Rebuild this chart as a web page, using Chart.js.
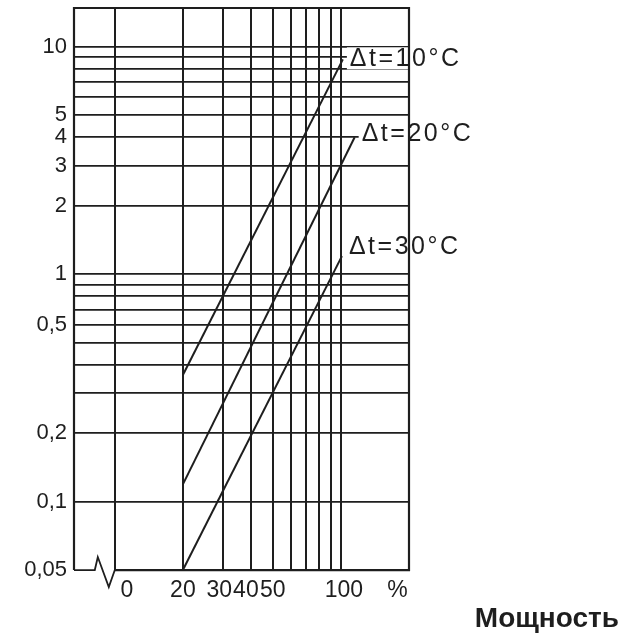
<!DOCTYPE html>
<html>
<head>
<meta charset="utf-8">
<script src="https://cdn.jsdelivr.net/npm/chart.js@4.4.1/dist/chart.umd.min.js"></script>
<style>
  html, body { margin: 0; padding: 0; background: #fff; }
  #wrap { width: 619px; height: 635px; }
</style>
</head>
<body>
<div id="wrap"><canvas id="chart"></canvas></div>
<script>
// vertical grid lines (power, %) and where the printed tick labels sit
const X_GRID = [10, 20, 30, 40, 50, 60, 70, 80, 90, 100];
const X_LABEL_VALUES = [11.3, 20, 29, 38, 50, 103, 178];
const X_LABELS = ["0", "20", "30", "40", "50", "100", "%"];

// horizontal grid lines and printed y labels
const Y_GRID = [0.1, 0.2, 0.3, 0.4, 0.5, 0.6, 0.7, 0.8, 0.9, 1, 2, 3, 4, 5, 6, 7, 8, 9, 10];
const Y_LABEL_VALUES = [0.05, 0.1, 0.2, 0.6, 1, 2, 3, 4, 5, 10];
const Y_LABELS = ["0,05", "0,1", "0,2", "0,5", "1", "2", "3", "4", "5", "10"];

const SERIES_NAMES = ["Δt=10°C", "Δt=20°C", "Δt=30°C"];
const DT10_X = [20, 102];
const DT10_Y = [0.36, 8.8];
const DT20_X = [20, 115];
const DT20_Y = [0.119, 4.0];
const DT30_X = [20, 101];
const DT30_Y = [0.05, 1.2];

const INK = "#1e1e1e";
const FONT = "'Liberation Sans', Arial, sans-serif";
// how far each end label is lifted above its line end, px
const LABEL_LIFT = [0, 3, 9];

const X_TICKS = mergeTicks(X_GRID, X_LABEL_VALUES);
const Y_TICKS = mergeTicks(Y_GRID, Y_LABEL_VALUES);

function mergeTicks(grid, labels) {
  return [...new Set([...grid, ...labels])].sort((a, b) => a - b);
}

function near(list, value) {
  return list.findIndex((v) => Math.abs(v - value) < 1e-6);
}

function toPoints(xs, ys) {
  return xs.map((x, i) => ({ x, y: ys[i] }));
}

const seriesPoints = [
  toPoints(DT10_X, DT10_Y),
  toPoints(DT20_X, DT20_Y),
  toPoints(DT30_X, DT30_Y),
];

function lineEnd(chart, i) {
  const pts = chart.getDatasetMeta(i).data;
  const end = pts[pts.length - 1];
  return { x: end.x + 7, y: end.y - LABEL_LIFT[i] };
}

// frame with the broken bottom edge, plus the Δt labels at the line ends
const framePlugin = {
  id: "frame",
  beforeDatasetsDraw(chart) {
    const ctx = chart.ctx;
    ctx.save();
    ctx.font = `25px ${FONT}`;
    ctx.letterSpacing = "2.5px";
    chart.data.datasets.forEach((ds, i) => {
      const pos = lineEnd(chart, i);
      const w = ctx.measureText(ds.label).width;
      ctx.fillStyle = "#fff";
      ctx.fillRect(pos.x - 3, pos.y - 12, w + 6, 22);
    });
    ctx.restore();
  },
  afterDatasetsDraw(chart) {
    const { ctx, chartArea } = chart;
    const { left, right, top, bottom } = chartArea;
    const x0 = chart.scales.x.getPixelForValue(10);

    ctx.save();
    ctx.strokeStyle = INK;
    ctx.lineWidth = 2.2;
    ctx.beginPath();
    ctx.moveTo(left, bottom);
    ctx.lineTo(left, top);
    ctx.lineTo(right, top);
    ctx.lineTo(right, bottom);
    ctx.lineTo(x0, bottom);
    ctx.stroke();

    ctx.lineWidth = 1.8;
    ctx.beginPath();
    ctx.moveTo(left, bottom);
    ctx.lineTo(x0 - 20, bottom);
    ctx.lineTo(x0 - 17, bottom - 13);
    ctx.lineTo(x0 - 6, bottom + 17);
    ctx.lineTo(x0, bottom);
    ctx.stroke();

    ctx.font = `25px ${FONT}`;
    ctx.letterSpacing = "2.5px";
    ctx.fillStyle = INK;
    ctx.textBaseline = "middle";
    chart.data.datasets.forEach((ds, i) => {
      const pos = lineEnd(chart, i);
      ctx.fillText(ds.label, pos.x, pos.y);
    });
    ctx.restore();
  },
};

new Chart(document.getElementById("chart"), {
  type: "line",
  data: {
    datasets: seriesPoints.map((points, i) => ({
      label: SERIES_NAMES[i],
      data: points,
      borderColor: INK,
      borderWidth: 2,
      pointRadius: 0,
      fill: false,
      tension: 0,
    })),
  },
  options: {
    responsive: true,
    maintainAspectRatio: false,
    animation: false,
    layout: { padding: { top: 8, left: 0, right: 0, bottom: 1.8 } },
    plugins: {
      legend: { display: false },
      tooltip: { enabled: false },
      title: {
        display: true,
        text: "Мощность",
        position: "bottom",
        align: "end",
        color: INK,
        font: { family: FONT, size: 28, weight: "bold", lineHeight: 1.02 },
        padding: { top: -7, bottom: 0 },
      },
    },
    scales: {
      x: {
        type: "logarithmic",
        min: 6.6,
        max: 200,
        afterBuildTicks: (scale) => {
          scale.ticks = X_TICKS.map((value) => ({ value }));
        },
        border: { display: false },
        grid: {
          drawTicks: false,
          lineWidth: 2,
          color: (c) => (c.tick && near(X_GRID, c.tick.value) >= 0 ? INK : "rgba(0,0,0,0)"),
        },
        ticks: {
          autoSkip: false,
          maxRotation: 0,
          padding: 7,
          color: INK,
          font: { family: FONT, size: 23, lineHeight: 1.2 },
          callback: (value) => {
            const i = near(X_LABEL_VALUES, value);
            return i >= 0 ? X_LABELS[i] : "";
          },
        },
      },
      y: {
        type: "logarithmic",
        position: "left",
        min: 0.05,
        max: 14.8,
        afterBuildTicks: (scale) => {
          scale.ticks = Y_TICKS.map((value) => ({ value }));
        },
        afterFit: (scale) => {
          scale.width = 74;
          scale.paddingTop = 0;
          scale.paddingBottom = 0;
        },
        border: { display: false },
        grid: {
          drawTicks: false,
          lineWidth: 1.7,
          color: (c) => (c.tick && near(Y_GRID, c.tick.value) >= 0 ? INK : "rgba(0,0,0,0)"),
        },
        ticks: {
          autoSkip: false,
          padding: 7,
          color: INK,
          font: { family: FONT, size: 22 },
          callback: (value) => {
            const i = near(Y_LABEL_VALUES, value);
            return i >= 0 ? Y_LABELS[i] : "";
          },
        },
      },
      spacer: {
        type: "linear",
        position: "right",
        display: true,
        grid: { display: false },
        border: { display: false },
        ticks: { display: false },
        afterFit: (scale) => {
          scale.width = 210;
          scale.paddingTop = 0;
          scale.paddingBottom = 0;
        },
      },
    },
  },
  plugins: [framePlugin],
});
</script>
</body>
</html>
